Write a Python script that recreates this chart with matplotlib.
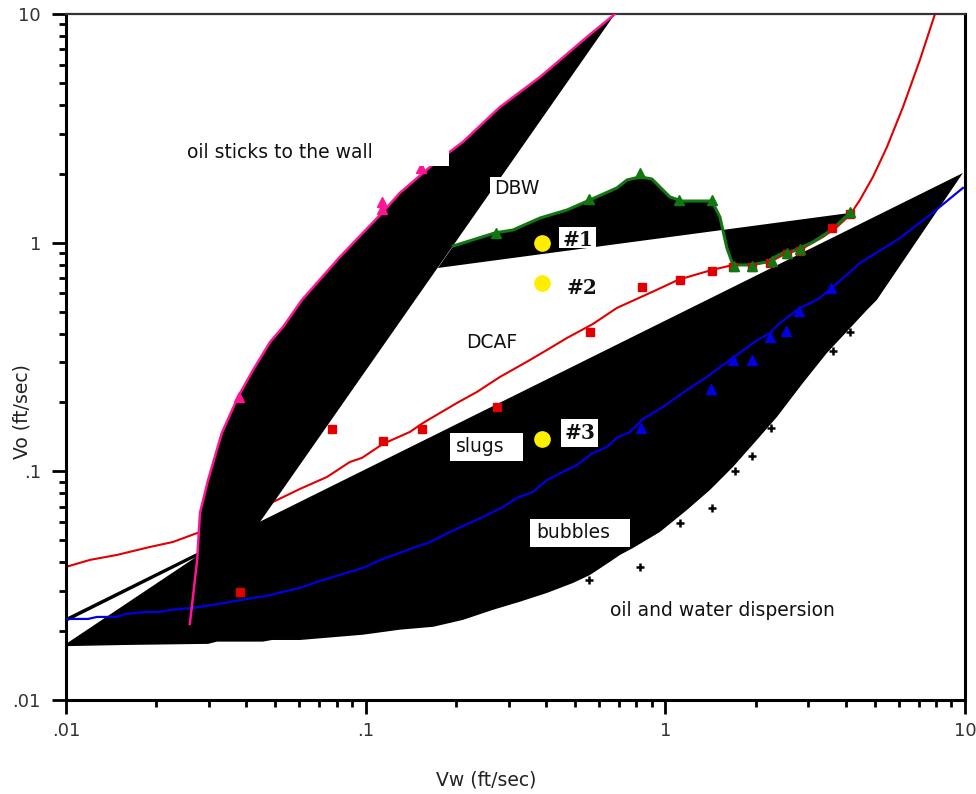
import matplotlib
matplotlib.use("Agg")
import matplotlib.pyplot as plt
from matplotlib.patches import Polygon, Rectangle

# ---------------- data ----------------
# oil-sticks-to-wall boundary (magenta)
magenta_x = [0.0259, 0.0274, 0.0280, 0.0298, 0.0331, 0.0375, 0.0421, 0.0480, 0.0530, 0.0613,
             0.0820, 0.1134, 0.1300, 0.1640, 0.2110, 0.2806, 0.3816, 0.5475, 0.679]
magenta_y = [0.0215, 0.0410, 0.0658, 0.0917, 0.147, 0.2115, 0.2775, 0.368, 0.428, 0.562,
             0.866, 1.349, 1.649, 2.144, 2.756, 3.92, 5.30, 7.93, 10.0]
magenta_pts_x = [0.0377, 0.1134, 0.1134, 0.153]
magenta_pts_y = [0.2115, 1.507, 1.40, 2.12]

# wedge right edge (top point, apex)
wedge_edge_x = [0.679, 0.0437]
wedge_edge_y = [10.0, 0.0583]

# DBW boundary (green)
green_x = [0.196, 0.270, 0.310, 0.382, 0.470, 0.560, 0.689, 0.745, 0.823, 0.902, 1.036, 1.136,
           1.409, 1.441, 1.521, 1.605, 1.681, 1.916, 2.183, 2.286, 2.469, 2.666, 2.813, 3.109,
           3.462, 3.738, 4.130]
green_y = [0.967, 1.103, 1.136, 1.282, 1.390, 1.537, 1.735, 1.880, 1.939, 1.899, 1.584, 1.521,
           1.521, 1.491, 1.295, 0.948, 0.799, 0.799, 0.823, 0.857, 0.902, 0.920, 0.948, 1.007,
           1.103, 1.195, 1.349]
green_pts_x = [0.272, 0.556, 0.823, 1.110, 1.431, 1.694, 1.945, 2.268, 2.545, 2.813, 4.130]
green_pts_y = [1.103, 1.553, 2.017, 1.537, 1.537, 0.791, 0.791, 0.832, 0.902, 0.939, 1.362]
dbw_line_x = [4.130, 0.1742]
dbw_line_y = [1.349, 0.775]

# slugs / bubbles region: upper line and lower boundary
slug_top_x = [0.01, 9.84]
slug_top_y = [0.02286, 2.017]
bubble_bot_x = [0.01, 0.0157, 0.0298, 0.0319, 0.0454, 0.0487, 0.0604, 0.098, 0.130, 0.168,
                0.211, 0.266, 0.327, 0.403, 0.492, 0.560, 0.653, 0.706, 0.780, 0.959, 1.181,
                1.409, 1.681, 2.021, 2.357, 2.878, 3.462, 4.708, 5.08, 9.84]
bubble_bot_y = [0.0172, 0.0174, 0.0176, 0.0180, 0.0180, 0.0183, 0.0183, 0.0193, 0.0203, 0.0209,
                0.0224, 0.0248, 0.0269, 0.0294, 0.0325, 0.0352, 0.0402, 0.0431, 0.0462, 0.0543,
                0.0678, 0.0829, 0.1045, 0.1372, 0.1729, 0.2435, 0.3295, 0.508, 0.562, 2.017]
gap_x = [0.01, 0.01, 0.02716]
gap_y = [0.02196, 0.01759, 0.0422]

# DCAF boundary (red)
red_x = [0.0100, 0.01203, 0.01480, 0.01907, 0.02275, 0.0280, 0.0381, 0.0491, 0.0604, 0.0743,
         0.0886, 0.0972, 0.1142, 0.1405, 0.1553, 0.1770, 0.2017, 0.2351, 0.2806, 0.3534,
         0.4027, 0.4696, 0.5733, 0.6894, 0.8884, 0.9818, 1.102, 1.285, 1.431, 1.681, 1.916,
         2.268, 2.545, 2.813, 3.357, 3.738, 4.130, 4.46, 4.93, 5.49, 6.21, 7.07, 7.94]
red_y = [0.0382, 0.0410, 0.0431, 0.0467, 0.0491, 0.0543, 0.0638, 0.0735, 0.0838, 0.0945,
         0.1099, 0.1145, 0.1318, 0.1487, 0.1627, 0.1800, 0.1991, 0.2224, 0.2587, 0.3069,
         0.3395, 0.3830, 0.4411, 0.5183, 0.6028, 0.6403, 0.6870, 0.7297, 0.7597, 0.799, 0.799,
         0.832, 0.902, 0.929, 1.059, 1.171, 1.322, 1.537, 1.939, 2.621, 3.92, 6.29, 10.0]
red_pts_x = [0.0381, 0.0772, 0.1142, 0.1541, 0.2744, 0.5603, 0.8353, 1.119, 1.431, 1.681,
             1.945, 2.234, 2.545, 2.813, 3.596, 4.130]
red_pts_y = [0.0297, 0.1532, 0.1358, 0.1532, 0.1912, 0.4070, 0.6403, 0.687, 0.752, 0.783,
             0.783, 0.815, 0.892, 0.920, 1.160, 1.335]

# slug / bubble boundary (blue)
blue_x = [0.01, 0.01184, 0.01269, 0.0148, 0.01574, 0.01863, 0.02059, 0.02223, 0.02634, 0.03093,
          0.03526, 0.0421, 0.04685, 0.0530, 0.0604, 0.0704, 0.0820, 0.0980, 0.1142, 0.1438,
          0.1640, 0.1882, 0.2228, 0.2540, 0.2872, 0.3198, 0.3616, 0.4027, 0.4553, 0.5070,
          0.5733, 0.6386, 0.6894, 0.7620, 0.8420, 0.9818, 1.093, 1.208, 1.377, 1.557, 1.734,
          1.961, 2.234, 2.413, 2.813, 3.205, 3.596, 4.46, 5.93, 7.64, 9.84]
blue_y = [0.02262, 0.02262, 0.02308, 0.02308, 0.02378, 0.02427, 0.02427, 0.02477, 0.02528,
          0.02604, 0.02685, 0.02795, 0.02853, 0.02971, 0.03093, 0.03319, 0.03524, 0.03782,
          0.0414, 0.0462, 0.0491, 0.0538, 0.0595, 0.0644, 0.0699, 0.0765, 0.0813, 0.0917,
          0.0994, 0.1067, 0.1203, 0.1278, 0.140, 0.1487, 0.1694, 0.1912, 0.2115, 0.2316,
          0.2587, 0.2918, 0.3228, 0.3642, 0.4029, 0.4456, 0.5183, 0.562, 0.6337, 0.815,
          1.027, 1.322, 1.735]
blue_pts_x = [0.8292, 1.420, 1.681, 1.945, 2.234, 2.526, 2.791, 3.569]
blue_pts_y = [0.1549, 0.2293, 0.3069, 0.3069, 0.3868, 0.4111, 0.5029, 0.6337]

# dispersion points (black +)
plus_x = [0.556, 0.8227, 1.119, 1.431, 1.707, 1.945, 2.251, 3.624, 4.13]
plus_y = [0.0335, 0.0382, 0.0595, 0.0692, 0.1004, 0.1167, 0.1549, 0.3362, 0.4070]

# test points
test_x = [0.387, 0.387, 0.387]
test_y = [0.997, 0.667, 0.1387]
test_labels = ["#1", "#2", "#3"]

tick_vals = [0.01, 0.1, 1, 10]
tick_labels = [".01", ".1", "1", "10"]

# ---------------- figure ----------------
W, H = 976, 794
fig = plt.figure(figsize=(W / 100, H / 100), dpi=100)
L, R, T, B = 66, 965, 14, 700
ax = fig.add_axes([L / W, (H - B) / H, (R - L) / W, (B - T) / H])
ax.set_xscale("log")
ax.set_yscale("log")
ax.set_xlim(0.01, 10)
ax.set_ylim(0.01, 10)


def axp(px, py):
    """pixel position -> axes fraction (for labels/boxes)"""
    return (px - L) / (R - L), (B - py) / (B - T)


# red curve below the black fills
ax.plot(red_x, red_y, color="#e00000", lw=1.5, zorder=1)

# black regions
wedge = list(zip(magenta_x, magenta_y)) + [(wedge_edge_x[1], wedge_edge_y[1])]
ax.add_patch(Polygon(wedge, closed=True, facecolor="black", edgecolor="none", zorder=2))
dbw = list(zip(green_x, green_y)) + list(zip(dbw_line_x, dbw_line_y))
ax.add_patch(Polygon(dbw, closed=True, facecolor="black", edgecolor="none", zorder=2))
slug = list(zip(slug_top_x, slug_top_y)) + list(zip(bubble_bot_x[::-1], bubble_bot_y[::-1]))
ax.add_patch(Polygon(slug, closed=True, facecolor="black", edgecolor="none", zorder=2))
ax.add_patch(Polygon(list(zip(gap_x, gap_y)), closed=True, facecolor="white",
                     edgecolor="none", zorder=2.2))

# boundary curves
ax.plot(blue_x, blue_y, color="#0000e0", lw=1.6, zorder=3)
ax.plot(green_x, green_y, color="#117711", lw=2.2, zorder=3)
ax.plot(magenta_x, magenta_y, color="#ff1493", lw=1.8, zorder=3)

# markers
ax.plot(red_pts_x, red_pts_y, ls="none", marker="s", ms=5.5, color="#e00000", zorder=4)
ax.plot(green_pts_x, green_pts_y, ls="none", marker="^", ms=6.5, color="#117711", zorder=4.5)
ax.plot(blue_pts_x, blue_pts_y, ls="none", marker="^", ms=6.5, color="#0000e0", zorder=4)
ax.plot(magenta_pts_x, magenta_pts_y, ls="none", marker="^", ms=6.5, color="#ff1493", zorder=4)
ax.plot(plus_x, plus_y, ls="none", marker="+", ms=6, mew=1.8, color="black", zorder=4)
ax.plot(test_x, test_y, ls="none", marker="o", ms=11, color="#ffee00", mec="#ffee00", zorder=4)

# white label boxes (pixel extents)
boxes = [(175, 139, 449, 166), (490, 177, 545, 201), (559, 227, 596, 248),
         (561, 419, 598, 447), (450, 433, 523, 461), (530, 519, 630, 547)]
for x0, y0, x1, y1 in boxes:
    ax0, ay1 = axp(x0, y0)
    ax1, ay0 = axp(x1, y1)
    ax.add_patch(Rectangle((ax0, ay0), ax1 - ax0, ay1 - ay0, transform=ax.transAxes,
                           facecolor="white", edgecolor="none", zorder=5))

region_font = dict(family="DejaVu Sans", size=13.5, color="#111111", zorder=6,
                   ha="center", va="center")
for txt, px, py in [("oil sticks to the wall", 280, 153), ("DBW", 517, 189),
                    ("DCAF", 492, 342), ("slugs", 480, 446), ("bubbles", 573, 533),
                    ("oil and water dispersion", 722, 611)]:
    ax.text(*axp(px, py), txt, transform=ax.transAxes, **region_font)

for txt, px, py in zip(test_labels, [578, 582, 580], [240, 288, 433]):
    ax.text(*axp(px, py), txt, transform=ax.transAxes, family="DejaVu Serif",
            weight="bold", size=14.5, color="#111111", ha="center", va="center", zorder=6)

# axes styling
for s in ["left", "bottom", "right"]:
    ax.spines[s].set_linewidth(2.2)
    ax.spines[s].set_color("black")
ax.spines["top"].set_linewidth(1.6)
ax.spines["top"].set_color("#333333")

ax.set_xticks(tick_vals)
ax.set_xticklabels(tick_labels)
ax.set_yticks(tick_vals)
ax.set_yticklabels(tick_labels)
ax.tick_params(which="major", direction="out", length=10, width=2, color="black",
               labelsize=13, labelcolor="#333333")
ax.tick_params(axis="x", which="major", pad=6)
ax.tick_params(axis="y", which="major", pad=8)
ax.tick_params(which="minor", direction="out", length=5, width=2, color="black")
ax.tick_params(top=False, right=False, which="both")

ax.set_xlabel("Vw (ft/sec)", fontsize=13.5, color="#222222")
ax.set_ylabel("Vo (ft/sec)", fontsize=13.5, color="#222222")
ax.xaxis.label.set_va("center")
ax.xaxis.label.set_ha("center")
ax.yaxis.label.set_va("center")
ax.yaxis.label.set_ha("center")
ax.xaxis.set_label_coords(*axp(486, 780))
ax.yaxis.set_label_coords(*axp(22, 412))

fig.savefig("out.png", dpi=100)
